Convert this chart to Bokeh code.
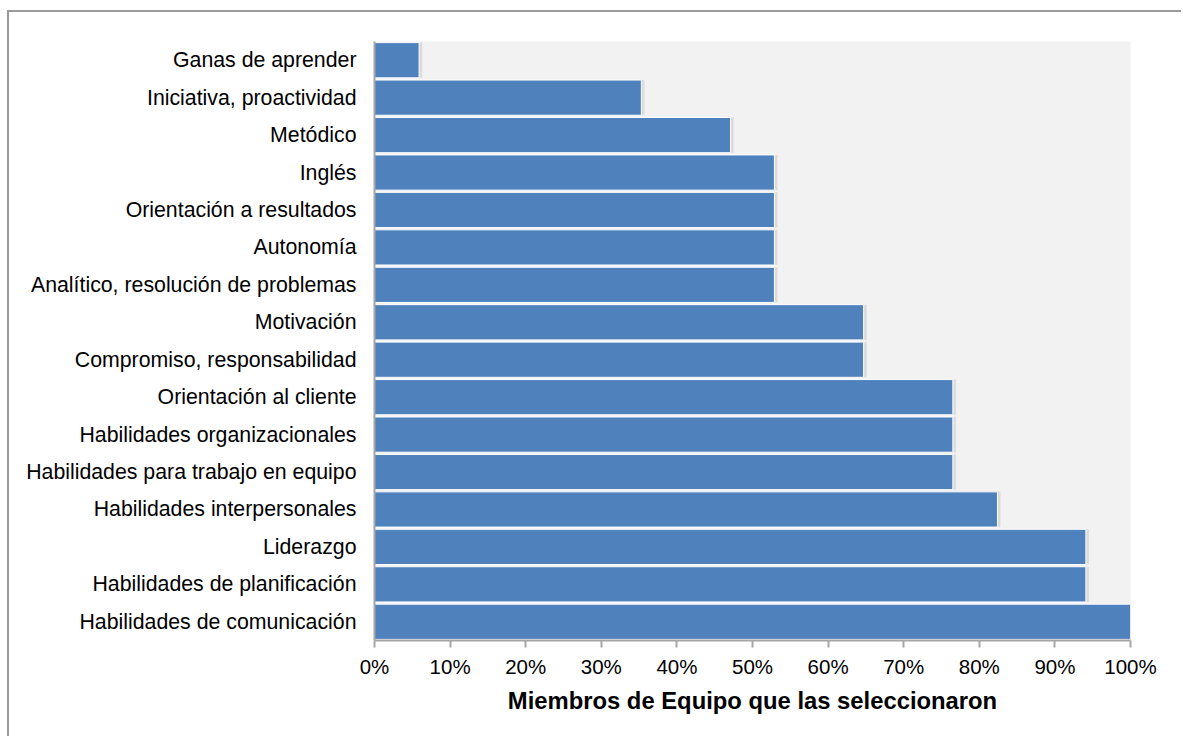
from bokeh.plotting import figure
from bokeh.models import ColumnDataSource, NumeralTickFormatter, FixedTicker
from bokeh.embed import file_html
from bokeh.resources import INLINE

categories = [
    "Ganas de aprender",
    "Iniciativa, proactividad",
    "Metódico",
    "Inglés",
    "Orientación a resultados",
    "Autonomía",
    "Analítico, resolución de problemas",
    "Motivación",
    "Compromiso, responsabilidad",
    "Orientación al cliente",
    "Habilidades organizacionales",
    "Habilidades para trabajo en equipo",
    "Habilidades interpersonales",
    "Liderazgo",
    "Habilidades de planificación",
    "Habilidades de comunicación",
]
values = [0.059, 0.353, 0.471, 0.529, 0.529, 0.529, 0.529, 0.647, 0.647,
          0.765, 0.765, 0.765, 0.824, 0.941, 0.941, 1.0]
x_ticks = [0, 0.1, 0.2, 0.3, 0.4, 0.5, 0.6, 0.7, 0.8, 0.9, 1.0]
x_title = "Miembros de Equipo que las seleccionaron"

src = ColumnDataSource(dict(cat=categories, val=values,
                            shadow=[v + 0.004 for v in values]))

p = figure(width=1174, height=726, output_backend="svg", toolbar_location=None,
           y_range=list(reversed(categories)), x_range=(0, 1.0))
p.min_border_left = 365
p.min_border_right = 53
p.min_border_top = 29
p.min_border_bottom = 98
p.styles = {"margin-left": "7px", "margin-top": "10px",
            "border-left": "2px solid #9a9a9a", "border-top": "2px solid #9a9a9a"}

p.background_fill_color = "#f2f2f2"
p.border_fill_color = "white"
p.outline_line_color = None
p.xgrid.visible = False
p.ygrid.visible = False
p.y_range.range_padding = 0

p.hbar(y="cat", right="shadow", height=0.94, left=0, source=src,
       fill_color="#d4d4d4", line_color=None, fill_alpha=0.8)
p.hbar(y="cat", right="val", height=0.94, left=0, source=src,
       fill_color="#4f81bd", line_color="white", line_width=1)

font = "Liberation Sans"
p.xaxis.ticker = FixedTicker(ticks=x_ticks)
p.xaxis.formatter = NumeralTickFormatter(format="0%")
p.xaxis.axis_label = x_title
p.xaxis.axis_label_text_font = font
p.xaxis.axis_label_text_font_size = "23.8px"
p.xaxis.axis_label_text_font_style = "bold"
p.xaxis.axis_label_text_color = "black"
p.xaxis.axis_label_standoff = 6
p.xaxis.major_label_text_font = font
p.xaxis.major_label_text_font_size = "20.5px"
p.xaxis.major_label_text_color = "black"
p.xaxis.major_label_standoff = 7
p.xaxis.axis_line_color = "#a6a6a6"
p.xaxis.axis_line_width = 2
p.xaxis.major_tick_line_color = "#a6a6a6"
p.xaxis.major_tick_line_width = 2
p.xaxis.major_tick_out = 7
p.xaxis.major_tick_in = 0
p.xaxis.minor_tick_line_color = None

p.yaxis.major_label_text_font = font
p.yaxis.major_label_text_font_size = "21.3px"
p.yaxis.major_label_text_color = "black"
p.yaxis.major_label_standoff = 12
p.yaxis.axis_line_color = "#a6a6a6"
p.yaxis.axis_line_width = 2
p.yaxis.major_tick_line_color = None
p.yaxis.minor_tick_line_color = None

open("out.html", "w").write(file_html(p, INLINE))
